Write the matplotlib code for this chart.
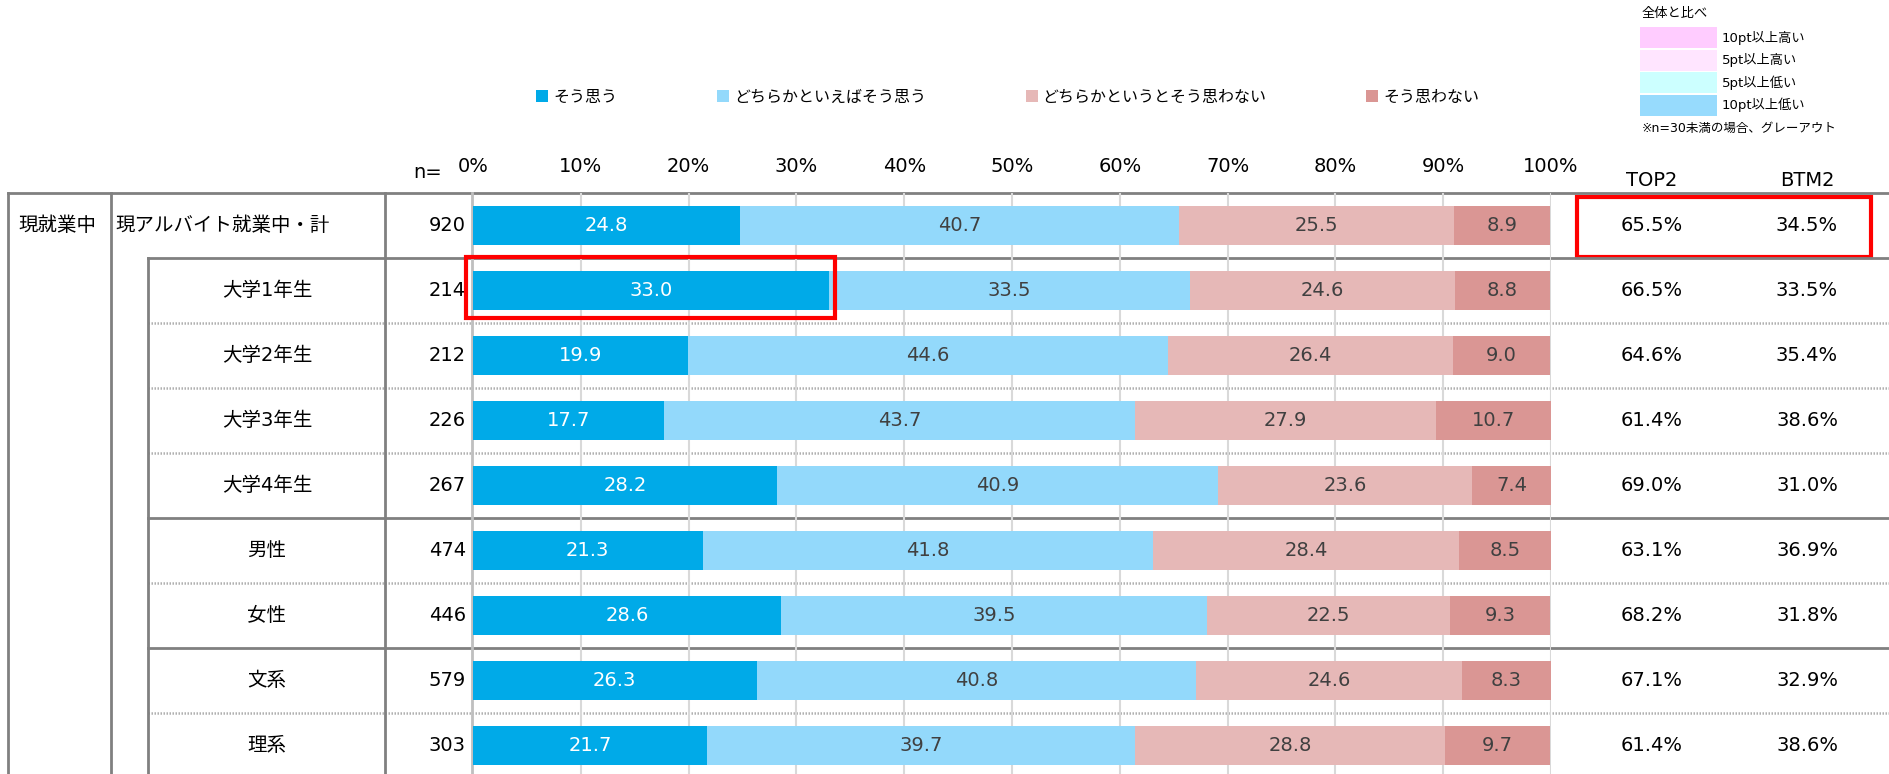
import numpy as np
import matplotlib.pyplot as plt
from matplotlib.patches import Rectangle

plt.rcParams['font.family'] = ['DejaVu Sans', 'Noto Sans CJK JP']

# 回答区分と色
answers = ['そう思う', 'どちらかといえばそう思う', 'どちらかというとそう思わない', 'そう思わない']
colors = ['#00AAE8', '#93D9FB', '#E6B8B7', '#DA9694']
txt_colors = ['white', '#404040', '#404040', '#404040']

# 属性別データ
labels = ['現アルバイト就業中・計', '大学1年生', '大学2年生', '大学3年生', '大学4年生',
          '男性', '女性', '文系', '理系']
n_list = [920, 214, 212, 226, 267, 474, 446, 579, 303]
sou = [24.8, 33.0, 19.9, 17.7, 28.2, 21.3, 28.6, 26.3, 21.7]
dochira_sou = [40.7, 33.5, 44.6, 43.7, 40.9, 41.8, 39.5, 40.8, 39.7]
dochira_not = [25.5, 24.6, 26.4, 27.9, 23.6, 28.4, 22.5, 24.6, 28.8]
not_sou = [8.9, 8.8, 9.0, 10.7, 7.4, 8.5, 9.3, 8.3, 9.7]
top2 = [65.5, 66.5, 64.6, 61.4, 69.0, 63.1, 68.2, 67.1, 61.4]
btm2 = [34.5, 33.5, 35.4, 38.6, 31.0, 36.9, 31.8, 32.9, 38.6]

# 全体と比べ の凡例
cmp_labels = ['10pt以上高い', '5pt以上高い', '5pt以上低い', '10pt以上低い']
cmp_colors = ['#FFCCFF', '#FFE5FF', '#CCFFFF', '#97DBFD']

W, H = 1889, 774
TOP = 193      # 表の上端(px)
ROW_H = 65     # 行の高さ(px)
X0, X1 = 473, 1551  # 0%〜100%の位置(px)
FS = 14
LINE = '#808080'

fig = plt.figure(figsize=(W / 100, H / 100), dpi=100)

# 表の罫線・文字用 (ピクセル座標)
ax0 = fig.add_axes([0, 0, 1, 1])
ax0.set_xlim(0, W)
ax0.set_ylim(H, 0)
ax0.axis('off')

# 帯グラフ用
ax = fig.add_axes([X0 / W, 0, (X1 - X0) / W, (H - TOP) / H])
ax.patch.set_alpha(0)
ax.set_xlim(0, 100)
ax.set_ylim((H - TOP) / ROW_H - 0.5, -0.5)
for s in ax.spines.values():
    s.set_visible(False)
ax.xaxis.tick_top()
ax.set_xticks(range(0, 101, 10))
ax.set_xticklabels([f'{v}%' for v in range(0, 101, 10)], fontsize=FS)
ax.tick_params(axis='x', length=0, pad=12)
ax.set_yticks([])
for v in range(10, 101, 10):
    ax.axvline(v, color='#D9D9D9', lw=1.5, zorder=0)

rows = np.arange(len(labels))
series = [sou, dochira_sou, dochira_not, not_sou]
left = np.zeros(len(labels))
for vals, name, c, tc in zip(series, answers, colors, txt_colors):
    vals = np.array(vals)
    ax.barh(rows, vals, left=left, height=0.585, color=c, label=name, zorder=2)
    for i, v in enumerate(vals):
        ax.text(left[i] + v / 2, i, f'{v:.1f}', ha='center', va='center',
                color=tc, fontsize=FS, zorder=3)
    left += vals

# 大学1年生「そう思う」を強調
ax.add_patch(Rectangle((-0.65, 1 - 0.51), sou[1] + 1.25, 0.93, fill=False,
                       edgecolor='red', lw=3, clip_on=False, zorder=4))

# 罫線
ax0.plot([8, W], [TOP, TOP], color=LINE, lw=2)
for k in range(1, 9):
    y = TOP + k * ROW_H
    if k in (1, 5, 7):
        ax0.plot([148, W], [y, y], color=LINE, lw=2)
    else:
        ax0.plot([148, W], [y, y], color='#B0B0B0', lw=1.8, ls=(0, (0.6, 0.6)))
for x, y0 in [(8, TOP), (111, TOP), (148, TOP + ROW_H), (385, TOP)]:
    ax0.plot([x, x], [y0, H], color=LINE, lw=2)
ax0.plot([X0 - 1, X0 - 1], [TOP, H], color='#BFBFBF', lw=2)

# 表の文字
ax0.text(18, TOP + ROW_H / 2, '現就業中', ha='left', va='center', fontsize=FS)
for i, (lab, n) in enumerate(zip(labels, n_list)):
    yc = TOP + ROW_H * (i + 0.5)
    if i == 0:
        ax0.text(115, yc, lab, ha='left', va='center', fontsize=FS)
    else:
        ax0.text(267, yc, lab, ha='center', va='center', fontsize=FS)
    ax0.text(466, yc, str(n), ha='right', va='center', fontsize=FS)
    ax0.text(1652, yc, f'{top2[i]:.1f}%', ha='center', va='center', fontsize=FS)
    ax0.text(1807, yc, f'{btm2[i]:.1f}%', ha='center', va='center', fontsize=FS)

ax0.text(428, 173, 'n=', ha='center', va='center', fontsize=FS)
ax0.text(1652, 180, 'TOP2', ha='center', va='center', fontsize=FS)
ax0.text(1807, 180, 'BTM2', ha='center', va='center', fontsize=FS)

# 全体計の TOP2/BTM2 を強調
ax0.add_patch(Rectangle((1577, 197), 294, 60, fill=False, edgecolor='red', lw=3))

# 回答凡例
fig.legend(loc='center left', bbox_to_anchor=(522 / W, 1 - 97 / H), ncol=4,
           frameon=False, fontsize=11.5, handlelength=0.75, handleheight=0.75,
           handletextpad=0.3, columnspacing=6.25)

# 全体と比べ の凡例
ax0.text(1642, 14, '全体と比べ', ha='left', va='center', fontsize=9.5)
for k, (lab, c) in enumerate(zip(cmp_labels, cmp_colors)):
    y0 = 27 + k * 22.5
    ax0.add_patch(Rectangle((1640, y0), 77, 21, color=c, lw=0))
    ax0.text(1722, y0 + 10.5, lab, ha='left', va='center', fontsize=9.5)
ax0.text(1642, 128, '※n=30未満の場合、グレーアウト', ha='left', va='center', fontsize=9)

fig.savefig('out.png', dpi=100)
